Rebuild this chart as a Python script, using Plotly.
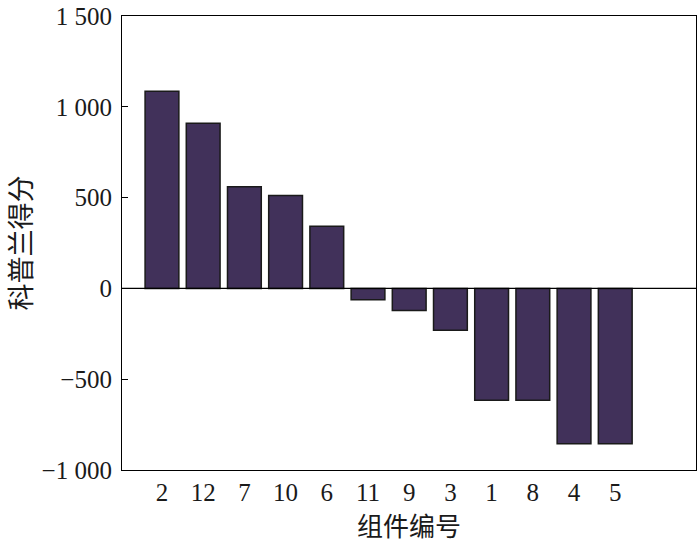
import plotly.graph_objects as go

categories = ["2", "12", "7", "10", "6", "11", "9", "3", "1", "8", "4", "5"]
scores = [1085, 910, 560, 512, 342, -63, -122, -231, -616, -616, -855, -855]
ytick_vals = [-1000, -500, 0, 500, 1000, 1500]
ytick_text = ["\u22121 000", "\u2212500", "0", "500", "1 000", "1 500"]

fig = go.Figure()
fig.add_trace(go.Bar(
    x=list(range(len(categories))), y=scores,
    marker=dict(color="#41315a", line=dict(color="#1a1a1a", width=1.5)),
    width=0.82,
))
fig.add_hline(y=0, line=dict(color="black", width=1.2))

fig.update_layout(
    width=700, height=548,
    margin=dict(l=122, r=3, t=14, b=78),
    plot_bgcolor="white", paper_bgcolor="white",
    showlegend=False,
    font=dict(family="Liberation Serif, Times New Roman, serif", size=25, color="#1a1a1a"),
    xaxis=dict(
        range=[-0.97, 12.96],
        tickvals=list(range(len(categories))), ticktext=categories,
        showgrid=False, zeroline=False, showline=True, linecolor="black", linewidth=1.2,
        mirror=True, ticks="", ticklen=0,
        title=dict(text="组件编号", font=dict(family="Noto Sans CJK SC", size=26), standoff=5),
        tickfont=dict(size=25),
    ),
    yaxis=dict(
        range=[-1000, 1500],
        tickvals=ytick_vals, ticktext=ytick_text,
        showgrid=False, zeroline=False, showline=True, linecolor="black", linewidth=1.2,
        mirror=True, ticks="inside", ticklen=6, tickcolor="black",
        ticklabelstandoff=4,
        title=dict(text="科普兰得分", font=dict(family="Noto Sans CJK SC", size=27), standoff=6),
        tickfont=dict(size=25),
    ),
)

fig.write_html(
    "out.html",
    config={"displayModeBar": False},
    post_script="document.body.style.margin='0';document.body.style.overflow='hidden';",
)
